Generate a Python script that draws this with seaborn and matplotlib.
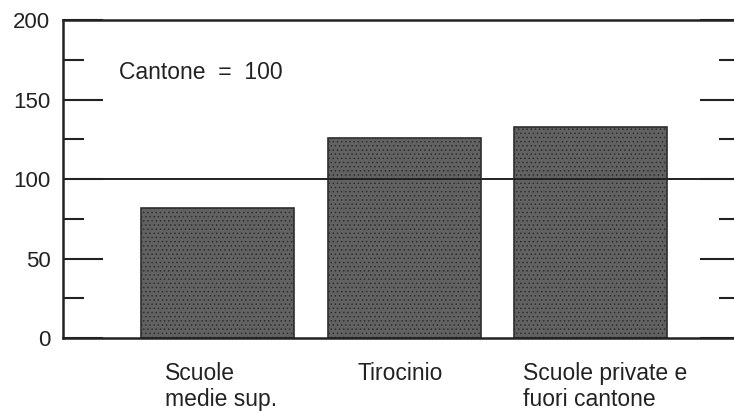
import matplotlib.pyplot as plt
import matplotlib.transforms as mtransforms
import seaborn as sns
import pandas as pd

# Index values by school path (Cantone = 100)
categories = ["Scuole\nmedie sup.", "Tirocinio", "Scuole private e\nfuori cantone"]
values = [82, 126, 133]
y_ticks = [0, 50, 100, 150, 200]
y_minor = [25, 75, 125, 175]
reference = 100

df = pd.DataFrame({"percorso": categories, "indice": values})

sns.set_theme(style="white")
plt.rcParams["font.family"] = ["Liberation Sans", "DejaVu Sans"]
plt.rcParams["hatch.color"] = "#a0a0a0"
plt.rcParams["hatch.linewidth"] = 0.6

fig = plt.figure(figsize=(7.34, 4.11), dpi=100)
ax = fig.add_axes([0.0858, 0.1776, 0.922, 0.7737])

sns.barplot(data=df, x="percorso", y="indice", ax=ax, width=0.82,
            color="#626262", edgecolor="#2e2e2e", linewidth=1.2,
            hatch="....", saturation=1)
for p in ax.patches:
    p.set_facecolor("#626262")

ax.axhline(reference, color="#222222", lw=1.4, zorder=5)
ax.text(-0.53, 167, "Cantone  =  100", fontsize=16.5, va="center", ha="left", color="#222222")

ax.set_xlim(-0.83, 2.8)
ax.set_ylim(0, 200)
ax.set_yticks(y_ticks)
ax.set_yticks(y_minor, minor=True)
ax.set_xlabel("")
ax.set_ylabel("")

for side in ["left", "top", "bottom"]:
    ax.spines[side].set_visible(True)
    ax.spines[side].set_color("#222222")
    ax.spines[side].set_linewidth(1.8)
ax.spines["right"].set_visible(False)

ax.tick_params(axis="y", which="major", direction="in", length=29, width=1.5,
               left=True, right=True, labelsize=16, colors="#222222", pad=9)
ax.tick_params(axis="y", which="minor", direction="in", length=15, width=1.5,
               left=True, right=True, colors="#222222")
ax.tick_params(axis="x", bottom=False, labelsize=16.5, pad=11, labelcolor="#222222")

# small horizontal nudges of the category labels (pixels)
nudges = [3, -4, 15]
for lbl, dx in zip(ax.get_xticklabels(), nudges):
    lbl.set_multialignment("left")
    lbl.set_linespacing(1.2)
    lbl.set_transform(lbl.get_transform() + mtransforms.Affine2D().translate(dx, 0))

fig.savefig("out.png", dpi=100)
